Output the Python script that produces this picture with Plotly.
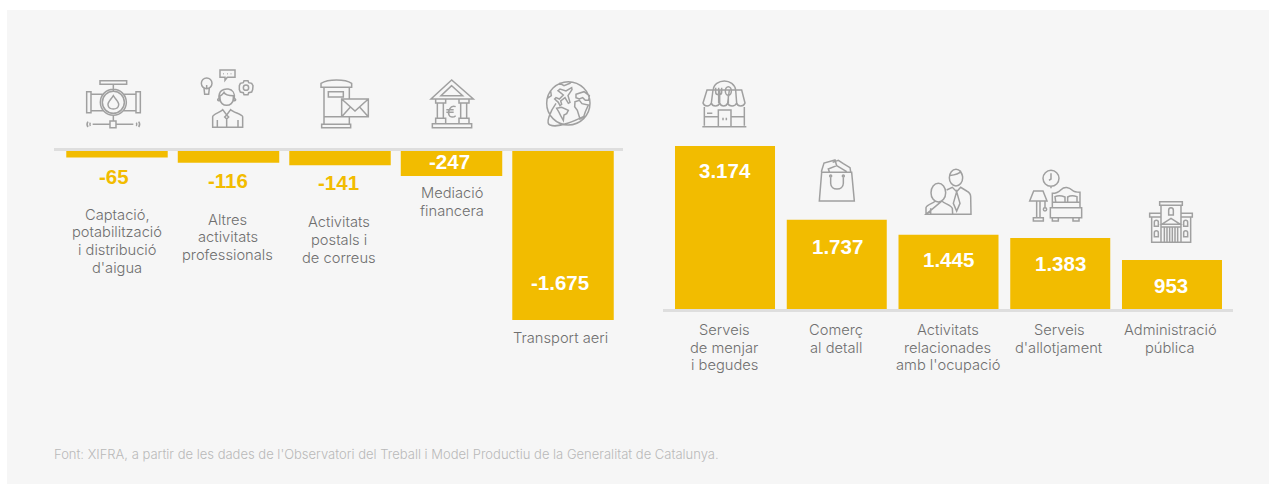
import re
import plotly.graph_objects as go

# ---------- data ----------
left_categories = ["Captació,<br>potabilització<br>i distribució<br>d'aigua",
                   "Altres<br>activitats<br>professionals",
                   "Activitats<br>postals i<br>de correus",
                   "Mediació<br>financera",
                   "Transport aeri"]
left_values = [-65, -116, -141, -247, -1675]
left_labels = ["-65", "-116", "-141", "-247", "-1.675"]

right_categories = ["Serveis<br>de menjar<br>i begudes",
                    "Comerç<br>al detall",
                    "Activitats<br>relacionades<br>amb l'ocupació",
                    "Serveis<br>d'allotjament",
                    "Administració<br>pública"]
right_values = [3174, 1737, 1445, 1383, 953]
right_labels = ["3.174", "1.737", "1.445", "1.383", "953"]

source_text = ("Font: XIFRA, a partir de les dades de l'Observatori del Treball i "
               "Model Productiu de la Generalitat de Catalunya.")

# ---------- style ----------
W, H = 1269, 484
YELLOW = "#f2bc00"
GRID = "#dedede"
PANEL = "#f6f6f6"
TEXT = "#6f6f6f"
ICON = "#a0a0a0"
FONT = "Liberation Sans"
LIGHT = "Inter"
LINE_STEP = 17.7
TEXT_SIZE = 14.7

fig = go.Figure()
fig.add_bar(x=left_categories, y=left_values, xaxis="x", yaxis="y", width=0.91,
            marker=dict(color=YELLOW, line=dict(width=0)), hoverinfo="skip")
fig.add_bar(x=right_categories, y=right_values, xaxis="x2", yaxis="y2", width=0.895,
            marker=dict(color=YELLOW, line=dict(width=0)), hoverinfo="skip")


def dom(a, b, n):
    return [a / n, b / n]


def ydom(top, bottom):
    return [1 - bottom / H, 1 - top / H]


axis_off = dict(showticklabels=False, ticks="", showgrid=False, zeroline=False, fixedrange=True)
fig.update_layout(
    width=W, height=H, margin=dict(l=0, r=0, t=0, b=0, pad=0),
    paper_bgcolor="white", plot_bgcolor="rgba(0,0,0,0)", showlegend=False,
    xaxis=dict(domain=dom(54, 623, W), range=[-0.565, 4.538], side="top", anchor="y",
               type="category", categoryorder="array", categoryarray=left_categories,
               showline=True, linecolor=GRID, linewidth=3, **axis_off),
    yaxis=dict(domain=ydom(151, 332.6), range=[-1800, 0], anchor="x", visible=False, fixedrange=True),
    xaxis2=dict(domain=dom(663, 1233, W), range=[-0.555, 4.546], side="bottom", anchor="y2",
                type="category", categoryorder="array", categoryarray=right_categories,
                showline=True, linecolor=GRID, linewidth=3, **axis_off),
    yaxis2=dict(domain=ydom(134.4, 309), range=[0, 3400], anchor="x2", visible=False, fixedrange=True),
)

# ---------- text ----------
ann = []


def category_lines(cat, val, xref, yref, base, dx):
    for i, line in enumerate(cat.split("<br>")):
        ann.append(dict(x=cat, y=val, xref=xref, yref=yref, text=line, showarrow=False,
                        yanchor="middle", yshift=base - i * LINE_STEP, xshift=dx,
                        font=dict(family=LIGHT, size=TEXT_SIZE, color=TEXT, weight=300)))


left_value_dy = [-19, -18, -17, 14, 37]
left_value_dx = [-3.5, -1, -2, -2.5, -3]
left_text_dy = [-57, -57, -57, -17, -18]
left_text_dx = [0, -1, -1, 0, -3]
for cat, val, lab, vy, vx, ty, tx in zip(left_categories, left_values, left_labels, left_value_dy,
                                         left_value_dx, left_text_dy, left_text_dx):
    ann.append(dict(x=cat, y=val, xref="x", yref="y", text=f"<b>{lab}</b>", showarrow=False,
                    yanchor="middle", yshift=vy, xshift=vx,
                    font=dict(family=FONT, size=20.5, color="white" if abs(val) >= 200 else YELLOW)))
    category_lines(cat, val, "x", "y", ty, tx)
right_value_dy = [-24, -27, -25, -26, -25]
right_value_dx = [-0.5, 0.5, 0, 0, -1]
right_text_dx = [-1, -0.5, -1, -1, -1.5]
for cat, val, lab, vy, vx, tx in zip(right_categories, right_values, right_labels, right_value_dy,
                                     right_value_dx, right_text_dx):
    ann.append(dict(x=cat, y=val, xref="x2", yref="y2", text=f"<b>{lab}</b>", showarrow=False,
                    yanchor="middle", yshift=vy, xshift=vx,
                    font=dict(family=FONT, size=20.5, color="white")))
    category_lines(cat, 0, "x2", "y2", -21, tx)
ann.append(dict(x=54 / W, y=1 - 454 / H, xref="paper", yref="paper", xanchor="left", yanchor="middle",
                xshift=-2, text=source_text, showarrow=False,
                font=dict(family=LIGHT, size=13, color="#b9b9b9", weight=300)))
fig.update_layout(annotations=ann)


# ---------- decorative icons (drawn in page pixels) ----------
def tr(d, ox=0.0, oy=0.0, s=1.0):
    out, i = [], 0
    for tok in re.findall(r"[MLCQZ]|-?\d+\.?\d*", d):
        if tok.isalpha():
            out.append(tok)
        else:
            v = float(tok)
            if i % 2 == 0:
                out.append(f"{(ox + v * s) / W:.5f}")
            else:
                out.append(f"{1 - (oy + v * s) / H:.5f}")
            i += 1
    return " ".join(out)


def circ(cx, cy, r, ry=None):
    ry = r if ry is None else ry
    k = 0.5523
    return (f"M {cx - r} {cy} C {cx - r} {cy - k * ry} {cx - k * r} {cy - ry} {cx} {cy - ry} "
            f"C {cx + k * r} {cy - ry} {cx + r} {cy - k * ry} {cx + r} {cy} "
            f"C {cx + r} {cy + k * ry} {cx + k * r} {cy + ry} {cx} {cy + ry} "
            f"C {cx - k * r} {cy + ry} {cx - r} {cy + k * ry} {cx - r} {cy} Z ")


def rect(a, b, c, d):
    return f"M {a} {b} L {c} {b} L {c} {d} L {a} {d} Z "


def pl(*pts, close=False):
    s = "M " + " L ".join(f"{x} {y}" for x, y in pts)
    return s + (" Z " if close else " ")


shapes = [dict(type="rect", xref="paper", yref="paper", x0=7 / W, x1=1, y0=0, y1=1 - 10 / H,
               fillcolor=PANEL, line=dict(width=0), layer="below")]


def icon(d, ox, oy, s=1 / 3, width=1.5):
    shapes.append(dict(type="path", xref="paper", yref="paper", path=tr(d, ox, oy, s),
                       line=dict(color=ICON, width=width), fillcolor="rgba(0,0,0,0)", layer="above"))


# valve
icon(rect(60, 47, 140, 58) + pl((100, 58), (100, 78))
     + circ(100, 112, 39) + circ(100, 112, 33)
     + "M 100 92 C 92 105 82 112 84 120 C 86 136 114 136 116 120 C 118 112 108 105 100 92 Z "
     + rect(20, 80, 33, 143) + rect(168, 80, 181, 143)
     + pl((33, 88), (72, 88)) + pl((33, 137), (72, 137)) + pl((128, 88), (168, 88)) + pl((128, 137), (168, 137))
     + pl((100, 151), (100, 168)) + rect(90, 168, 108, 188) + pl((38, 178), (90, 178)) + pl((108, 178), (160, 178))
     + "M 24 170 Q 18 178 24 186 M 31 173 Q 28 178 31 183 M 176 170 Q 182 178 176 186 M 169 173 Q 172 178 169 183 ",
     80, 65)
# person with ideas
icon("M 420 100 C 420 128 460 128 460 100 L 460 92 C 450 92 436 90 432 82 C 428 88 424 92 420 92 Z "
     + "M 417 100 C 415 78 430 70 445 72 C 458 74 465 85 463 100 "
     + circ(416, 104, 3) + circ(464, 104, 3)
     + "M 398 187 L 398 155 C 398 148 420 142 428 134 L 440 150 L 452 134 C 460 142 488 148 488 155 L 488 187 Z "
     + pl((440, 150), (434, 156), (440, 162), (446, 156), close=True) + pl((440, 162), (440, 187))
     + pl((412, 165), (412, 187)) + pl((474, 165), (474, 187))
     + circ(380, 55, 16) + pl((372, 70), (374, 88), (386, 88), (388, 70)) + pl((380, 60), (380, 72))
     + pl((420, 15), (465, 15), (465, 37), (442, 37), (435, 46), (435, 37), (420, 37), close=True)
     + pl((430, 26), (432, 26)) + pl((441, 26), (443, 26)) + pl((452, 26), (454, 26))
     + circ(498, 68, 8)
     + pl((492, 47), (504, 47), (506, 53), (515, 55), (519, 62), (518, 74), (515, 81), (506, 83), (504, 89),
          (492, 89), (490, 83), (481, 81), (478, 74), (478, 62), (481, 55), (490, 53), close=True),
     80, 65)
# post box
icon("M 18 37 L 18 25 C 40 12 90 12 110 25 L 110 37 Z "
     + pl((27, 37), (27, 125), (78, 125)) + pl((103, 37), (103, 72))
     + rect(40, 50, 85, 66) + rect(80, 72, 160, 125)
     + pl((80, 72), (120, 108), (160, 72)) + pl((80, 125), (107, 95)) + pl((160, 125), (133, 95))
     + pl((27, 125), (27, 148)) + pl((103, 125), (103, 148)) + rect(20, 148, 107, 158),
     315, 75)
# bank
icon(pl((410, 15), (348, 72), (475, 72), close=True) + pl((410, 32), (378, 62), (443, 62), close=True)
     + rect(362, 72, 392, 84) + rect(432, 72, 462, 84)
     + rect(367, 84, 385, 130) + rect(437, 84, 455, 130)
     + rect(362, 130, 392, 146) + rect(432, 130, 462, 146)
     + rect(352, 146, 470, 158)
     + "M 422 95 C 405 88 398 112 402 120 C 405 128 416 128 422 122 M 394 104 L 416 104 M 394 112 L 416 112 ",
     315, 75)
# globe
icon(circ(85, 85, 65)
     + pl((95, 38), (78, 48), (60, 42), (54, 47), (70, 60), (58, 72), (48, 68), (44, 72), (55, 82), (60, 92),
          (65, 88), (62, 78), (75, 68), (85, 85), (90, 82), (84, 62), (96, 44), close=True)
     + pl((105, 80), (118, 76), (126, 86), (145, 90), (136, 110), (131, 125), (120, 132), (112, 106), (104, 95), close=True)
     + pl((50, 100), (65, 97), (85, 106), (80, 116), (72, 120), (70, 136), (62, 122), (55, 108), close=True)
     + pl((108, 58), (132, 50), (148, 62), (146, 75), (136, 76), (128, 68), (118, 72), (108, 68), close=True)
     + "M 58 24 L 72 32 L 92 24 M 22 70 L 34 62 L 32 48 "
     + "M 48 85 C 30 110 16 145 30 150 C 48 158 90 145 130 125 ",
     540, 75)
# restaurant
icon("M 55 45 C 55 28 72 18 88 18 C 104 18 120 28 122 45 "
     + "M 36 45 L 140 45 L 150 84 C 146 96 128 96 125 84 C 120 96 102 96 98 84 C 94 96 78 96 74 84 "
     + "C 70 96 52 96 49 84 C 44 96 28 96 24 84 Z "
     + pl((54, 45), (49, 84)) + pl((74, 45), (74, 84)) + pl((103, 45), (98, 84)) + pl((122, 45), (125, 84))
     + "M 62 38 L 62 52 C 62 62 80 62 80 52 L 80 38 M 71 38 L 71 84 "
     + circ(100, 48, 9, 13) + pl((100, 61), (100, 84))
     + pl((28, 96), (28, 152)) + pl((148, 96), (148, 152)) + pl((22, 155), (154, 155))
     + pl((28, 125), (70, 125)) + pl((108, 125), (148, 125))
     + rect(70, 105, 108, 155) + pl((84, 128), (84, 136)) + pl((94, 128), (94, 136)) + pl((36, 115), (52, 115)),
     695, 75)
# shopping bag
icon(pl((35, 52), (125, 52), (133, 138), (28, 138), close=True)
     + "M 62 65 L 62 85 C 62 108 100 108 100 85 L 100 65 "
     + circ(62, 63, 3) + circ(100, 63, 3)
     + pl((34, 50), (42, 24), (75, 15), (80, 32), (55, 42), (58, 50))
     + pl((68, 22), (85, 16), (100, 26), (120, 38), (122, 50)) + pl((80, 32), (110, 50)),
     810, 155)
# two people
icon(circ(385, 113, 22, 28) + "M 348 178 L 348 158 C 350 148 372 145 375 138 M 396 138 C 400 145 425 150 427 160 L 428 178 L 348 178 Z "
     + pl((362, 160), (362, 178))
     + circ(438, 68, 20, 25) + "M 418 62 C 430 60 445 58 452 50 C 455 58 458 60 458 66 "
     + "M 410 105 L 427 97 L 440 110 L 452 97 L 470 108 C 478 112 482 115 482 125 L 483 178 L 428 178 "
     + pl((440, 110), (430, 145), (440, 168), (450, 145), close=True),
     810, 155)
# bedroom
icon(circ(78, 40, 24) + pl((78, 25), (78, 42), (72, 46)) + pl((78, 64), (78, 70))
     + pl((26, 78), (54, 78), (66, 108), (14, 108), close=True) + rect(35, 108, 45, 158) + rect(25, 158, 55, 168)
     + pl((60, 108), (60, 127)) + circ(60, 133, 5)
     + "M 82 128 L 82 85 C 95 85 102 80 108 74 C 118 64 132 66 142 76 C 148 82 155 82 165 82 L 165 128 "
     + rect(76, 128, 170, 158) + pl((82, 112), (165, 112))
     + "M 92 110 L 90 95 C 100 90 110 92 120 96 L 120 110 M 128 110 L 128 96 C 138 90 148 92 156 95 L 156 110 "
     + rect(82, 158, 100, 168) + rect(144, 158, 162, 168),
     1025, 165)
# building
icon(rect(404, 110, 472, 121) + rect(408, 121, 468, 232) + rect(374, 145, 408, 156) + rect(468, 145, 502, 156)
     + rect(380, 156, 408, 232) + rect(468, 156, 497, 232)
     + pl((410, 178), (438, 160), (466, 178), close=True) + pl((410, 186), (466, 186))
     + pl((418, 186), (418, 232)) + pl((426, 186), (426, 232)) + pl((434, 186), (434, 232))
     + pl((442, 186), (442, 232)) + pl((450, 186), (450, 232)) + pl((458, 186), (458, 232))
     + "M 431 150 L 431 136 C 431 126 445 126 445 136 L 445 150 Z "
     + "M 388 184 L 388 172 C 388 164 400 164 400 172 L 400 184 Z "
     + "M 388 215 L 388 203 C 388 195 400 195 400 203 L 400 215 Z "
     + "M 476 184 L 476 172 C 476 164 488 164 488 172 L 488 184 Z "
     + "M 476 215 L 476 203 C 476 195 488 195 488 203 L 488 215 Z ",
     1025, 165)

fig.update_layout(shapes=shapes)

fig.write_html("out.html", config=dict(displayModeBar=False),
               post_script="document.body.style.margin='0';document.body.style.overflow='hidden';")
